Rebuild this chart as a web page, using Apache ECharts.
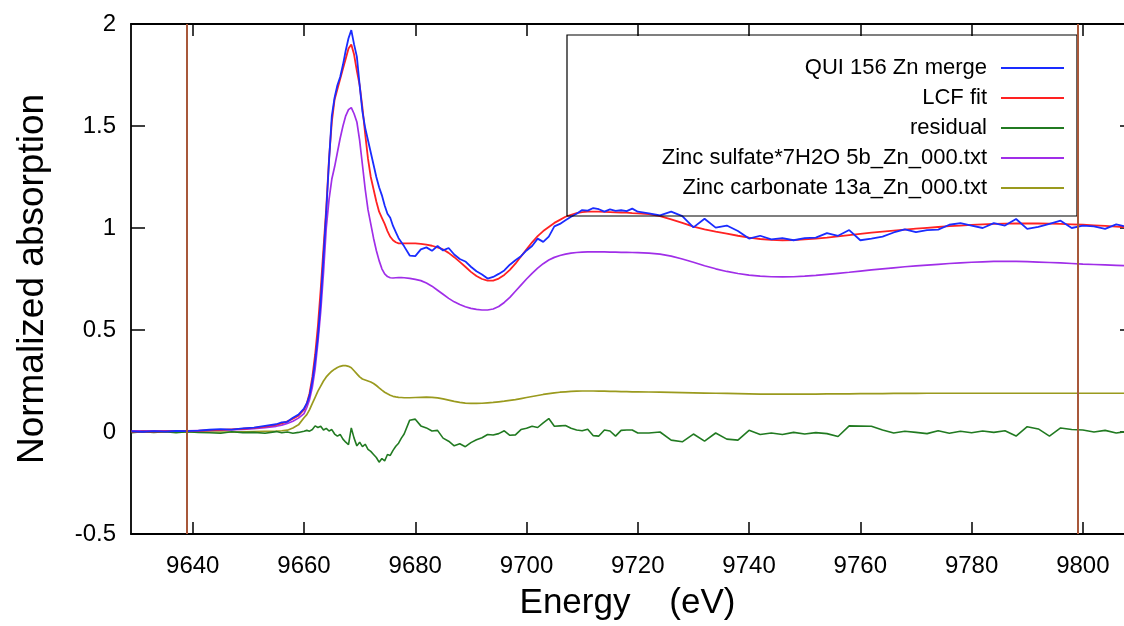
<!DOCTYPE html>
<html>
<head>
<meta charset="utf-8">
<script src="https://cdn.jsdelivr.net/npm/echarts@6/dist/echarts.min.js"></script>
<style>
  html, body { margin: 0; padding: 0; background: #fff; }
  #chart { width: 1124px; height: 626px; }
</style>
</head>
<body>
<div id="chart"></div>
<script>
// Energy grid (eV)
const energy = [
  9629, 9631, 9633, 9635, 9637, 9639, 9641, 9643, 9645, 9647, 9649, 9651, 9653,
  9655, 9656, 9657, 9658, 9659, 9660,
  9660.5, 9661, 9661.5, 9662, 9662.5, 9663, 9663.5, 9664, 9664.5, 9665, 9665.5, 9666,
  9666.5, 9667, 9667.5, 9668, 9668.5, 9669, 9669.5, 9670, 9670.5, 9671, 9671.5, 9672,
  9672.5, 9673, 9673.5, 9674, 9674.5, 9675, 9675.5, 9676, 9676.5, 9677, 9677.5, 9678,
  9679, 9680, 9681, 9682, 9683, 9684, 9685, 9686, 9687, 9688, 9689, 9690, 9691, 9692,
  9693, 9694, 9695, 9696, 9697, 9698, 9699, 9700, 9701, 9702, 9703, 9704, 9705, 9706,
  9707, 9708, 9709, 9710, 9711, 9712, 9713, 9714, 9715, 9716, 9717, 9718, 9719, 9720,
  9722, 9724, 9726, 9728, 9730, 9732, 9734, 9736, 9738, 9740, 9742, 9744, 9746, 9748,
  9750, 9752, 9754, 9756, 9758, 9760, 9762, 9764, 9766, 9768, 9770, 9772, 9774, 9776,
  9778, 9780, 9782, 9784, 9786, 9788, 9790, 9792, 9794, 9796, 9798, 9800, 9802, 9804,
  9806, 9808
];

// QUI 156 Zn merge (measured)
const mergeData = [
  0.003, 0.001, 0.004, 0.002, 0.005, 0.004, 0.007, 0.011, 0.014, 0.012, 0.018, 0.021, 0.030,
  0.038, 0.047, 0.050, 0.070, 0.085, 0.115,
  0.14, 0.18, 0.25, 0.35, 0.47, 0.64, 0.86, 1.08, 1.33, 1.55, 1.64, 1.70,
  1.74, 1.80, 1.87, 1.93, 1.97, 1.90, 1.84, 1.70, 1.57, 1.49, 1.43, 1.37,
  1.31, 1.25, 1.20, 1.16, 1.11, 1.07, 1.05, 1.01, 0.98, 0.95, 0.93, 0.91,
  0.865, 0.862, 0.895, 0.905, 0.888, 0.912, 0.89, 0.902, 0.87, 0.848, 0.836, 0.81, 0.788, 0.772,
  0.752, 0.76, 0.775, 0.792, 0.82, 0.842, 0.862, 0.89, 0.912, 0.948, 0.932, 0.958, 1.008, 1.02,
  1.038, 1.055, 1.07, 1.088, 1.085, 1.098, 1.092, 1.08, 1.091, 1.084, 1.087, 1.083, 1.095, 1.08,
  1.072, 1.062, 1.08, 1.058, 1.003, 1.045, 1.002, 1.012, 0.985, 0.948, 0.962, 0.944, 0.95, 0.94,
  0.95, 0.953, 0.975, 0.962, 0.99, 0.94, 0.948, 0.958, 0.978, 0.993, 0.98, 0.99, 0.992, 1.016,
  1.024, 1.012, 1.0, 1.024, 1.012, 1.044, 0.996, 1.005, 1.02, 1.036, 1.0, 1.012, 1.008, 0.996,
  1.018, 1.005
];

// LCF fit
const fitData = [
  0.001, 0.002, 0.002, 0.003, 0.004, 0.005, 0.006, 0.008, 0.010, 0.013, 0.016, 0.020, 0.026,
  0.035, 0.042, 0.052, 0.065, 0.080, 0.110,
  0.14, 0.19, 0.27, 0.38, 0.52, 0.70, 0.90, 1.10, 1.34, 1.52, 1.63, 1.68,
  1.73, 1.78, 1.83, 1.88, 1.90, 1.85, 1.77, 1.70, 1.59, 1.46, 1.34, 1.25,
  1.19, 1.13, 1.08, 1.05, 1.02, 0.985, 0.957, 0.94, 0.93, 0.925, 0.925, 0.925,
  0.925, 0.925, 0.922, 0.918, 0.913, 0.905, 0.895, 0.878, 0.857, 0.834, 0.81, 0.785, 0.765, 0.75,
  0.742, 0.742, 0.752, 0.77, 0.795, 0.825, 0.86, 0.895, 0.93, 0.96, 0.985, 1.005, 1.025, 1.04,
  1.055, 1.065, 1.073, 1.078, 1.08, 1.08, 1.08, 1.079, 1.078, 1.077, 1.076, 1.075, 1.073, 1.072,
  1.068, 1.058, 1.042, 1.025, 1.007, 0.993, 0.982, 0.972, 0.962, 0.953, 0.946, 0.942, 0.94, 0.941,
  0.944, 0.948, 0.953, 0.959, 0.965, 0.971, 0.977, 0.982, 0.987, 0.992, 0.997, 1.001, 1.005, 1.009,
  1.012, 1.015, 1.018, 1.02, 1.021, 1.022, 1.022, 1.022, 1.021, 1.02, 1.018, 1.016, 1.013, 1.01,
  1.007, 1.004
];

// residual
const residualData = [
  -0.003, 0.002, -0.002, 0.001, -0.003, 0.001, -0.002, -0.004, -0.006, 0.001, -0.003, -0.002, -0.006,
  0.002, -0.004, 0.0, -0.006, -0.002, 0.004,
  0.008, 0.004, 0.012, 0.03, 0.022, 0.028, 0.01, 0.018, 0.005, 0.012, -0.01, -0.02,
  -0.012, -0.035, -0.05, -0.062, 0.02, -0.03, -0.068, -0.05, -0.072, -0.06, -0.085, -0.095,
  -0.11, -0.125, -0.148, -0.13, -0.142, -0.11, -0.115, -0.09, -0.07, -0.055, -0.03, -0.01,
  0.058, 0.063, 0.03, 0.02, 0.005, 0.008, -0.03, -0.045, -0.068, -0.058, -0.072, -0.052, -0.038, -0.028,
  -0.012, -0.015, -0.008, 0.006, -0.016, -0.014, 0.012, 0.018, 0.028, 0.022, 0.045, 0.066, 0.028, 0.03,
  0.032, 0.018, 0.01, 0.006, 0.014, -0.018, -0.02, 0.01, 0.005, -0.02, 0.008, 0.01, 0.01, -0.005,
  -0.005, 0.0, -0.04, -0.048, -0.01, -0.045, -0.005, -0.035, -0.04, 0.008, -0.012, -0.005, -0.012, -0.002,
  -0.01, -0.003, -0.008, -0.022, 0.03, 0.029, 0.028, 0.01, -0.005, 0.004, -0.002, -0.008, 0.006, -0.006,
  0.004, -0.004, 0.005, -0.002, 0.006, -0.02, 0.026, 0.015, -0.02, 0.02, 0.012, 0.01, 0.0, 0.008,
  -0.005, 0.003
];

// Zinc sulfate*7H2O reference (weighted)
const sulfateData = [
  0.006, 0.006, 0.006, 0.006, 0.006, 0.006, 0.007, 0.008, 0.009, 0.011, 0.013, 0.016, 0.021,
  0.028, 0.034, 0.042, 0.053, 0.068, 0.09,
  0.12, 0.16, 0.22, 0.31, 0.44, 0.59, 0.78, 1.00, 1.14, 1.24, 1.30, 1.37,
  1.44, 1.50, 1.55, 1.58, 1.59, 1.56, 1.52, 1.43, 1.31, 1.19, 1.09, 1.02,
  0.95, 0.89, 0.84, 0.80, 0.775, 0.762, 0.756, 0.755, 0.756, 0.757, 0.757, 0.756,
  0.753, 0.748, 0.742, 0.73, 0.715, 0.695, 0.675, 0.655, 0.638, 0.625, 0.614, 0.606, 0.601, 0.598,
  0.598, 0.603, 0.615, 0.635, 0.66, 0.69, 0.72, 0.75, 0.778, 0.803, 0.825, 0.843, 0.856, 0.865,
  0.872, 0.877, 0.88, 0.882, 0.883, 0.883, 0.883, 0.883, 0.882, 0.882, 0.881, 0.881, 0.88, 0.879,
  0.877, 0.872, 0.862, 0.848, 0.832, 0.815, 0.8, 0.787, 0.777, 0.769, 0.764, 0.761, 0.76, 0.761,
  0.764, 0.768, 0.773, 0.778, 0.783, 0.789, 0.795, 0.8, 0.805, 0.81, 0.814, 0.818, 0.822, 0.826,
  0.829, 0.832, 0.834, 0.836, 0.836, 0.836, 0.835, 0.833, 0.831, 0.829, 0.826, 0.823, 0.821, 0.819,
  0.817, 0.815
];

// Zinc carbonate reference (weighted)
const carbonateData = [
  0, 0, 0, 0, 0, 0, 0, 0, 0, 0, 0.001, 0.002, 0.003,
  0.004, 0.006, 0.009, 0.02, 0.035, 0.07,
  0.085, 0.11, 0.14, 0.17, 0.20, 0.225, 0.25, 0.27, 0.285, 0.298, 0.308, 0.316,
  0.322, 0.325, 0.325, 0.322, 0.315, 0.30, 0.285, 0.27, 0.26, 0.255, 0.25, 0.245,
  0.238, 0.228, 0.216, 0.205, 0.195, 0.187, 0.18, 0.175, 0.172, 0.17, 0.169, 0.168,
  0.168, 0.169, 0.17, 0.171, 0.17, 0.167, 0.162, 0.156, 0.15, 0.145, 0.142, 0.14, 0.14, 0.141,
  0.143, 0.145, 0.148, 0.151, 0.155, 0.159, 0.164, 0.169, 0.174, 0.179, 0.184, 0.188, 0.192, 0.195,
  0.197, 0.199, 0.2, 0.201, 0.201, 0.201, 0.2, 0.2, 0.199, 0.199, 0.198, 0.198, 0.197, 0.197,
  0.196, 0.195, 0.194, 0.193, 0.192, 0.191, 0.19, 0.189, 0.188, 0.187, 0.186, 0.186, 0.186, 0.186,
  0.186, 0.186, 0.187, 0.187, 0.187, 0.188, 0.188, 0.188, 0.189, 0.189, 0.189, 0.19, 0.19, 0.19,
  0.19, 0.19, 0.19, 0.19, 0.19, 0.19, 0.19, 0.19, 0.19, 0.19, 0.19, 0.19, 0.19, 0.19,
  0.19, 0.19
];

// Fit range limits (eV)
const fitRange = [9639, 9799];

// Axis ticks and visible energy window
const xTicks = [9640, 9660, 9680, 9700, 9720, 9740, 9760, 9780, 9800];
const xRange = [9628.9, 9807.4];
const yTicks = [-0.5, 0, 0.5, 1, 1.5, 2];

const seriesNames = [
  'QUI 156 Zn merge',
  'LCF fit',
  'residual',
  'Zinc sulfate*7H2O 5b_Zn_000.txt',
  'Zinc carbonate 13a_Zn_000.txt'
];
const seriesValues = [mergeData, fitData, residualData, sulfateData, carbonateData];
const seriesColors = ['#1a2cff', '#ff2222', '#217a21', '#a02ee8', '#9a9a1e'];
const seriesWidths = [1.8, 1.8, 1.6, 1.7, 1.7];

const FONT = 'Liberation Sans, Arial, sans-serif';

const chart = echarts.init(document.getElementById('chart'), null, { renderer: 'canvas' });

const series = seriesNames.map((name, k) => ({
  name: name,
  type: 'line',
  xAxisIndex: 0,
  yAxisIndex: 0,
  symbol: 'none',
  smooth: false,
  lineStyle: { color: seriesColors[k], width: seriesWidths[k] },
  itemStyle: { color: seriesColors[k] },
  z: 2 + (4 - k) * 0.01,
  data: energy.map((e, i) => [e, seriesValues[k][i]])
}));

// vertical markers for the fit window
series[0].markLine = {
  silent: true,
  symbol: ['none', 'none'],
  label: { show: false },
  lineStyle: { color: '#a8583a', width: 2, type: 'solid' },
  z: 10,
  data: fitRange.map(v => ({ xAxis: v }))
};

const tickStyle = { show: true, inside: true, length: 12, lineStyle: { color: '#000', width: 1.5 } };
const axisLineStyle = { show: true, onZero: false, lineStyle: { color: '#000', width: 1.8 } };

const option = {
  animation: false,
  backgroundColor: '#fff',
  grid: { left: 131, right: 0, top: 24, bottom: 92, containLabel: false },
  xAxis: [
    {
      type: 'value',
      min: xRange[0],
      max: xRange[1],
      position: 'bottom',
      axisLine: axisLineStyle,
      axisTick: Object.assign({}, tickStyle, { customValues: xTicks }),
      axisLabel: {
        customValues: xTicks,
        formatter: v => String(v),
        color: '#000', fontFamily: FONT, fontSize: 24, margin: 20
      },
      splitLine: { show: false },
      name: 'Energy    (eV)',
      nameLocation: 'middle',
      nameGap: 52,
      nameTextStyle: { color: '#000', fontFamily: FONT, fontSize: 35 }
    },
    {
      type: 'value',
      min: xRange[0],
      max: xRange[1],
      position: 'top',
      axisLine: axisLineStyle,
      axisTick: Object.assign({}, tickStyle, { customValues: xTicks }),
      axisLabel: { show: false },
      splitLine: { show: false }
    }
  ],
  yAxis: [
    {
      type: 'value',
      min: yTicks[0],
      max: yTicks[yTicks.length - 1],
      interval: 0.5,
      position: 'left',
      axisLine: axisLineStyle,
      axisTick: Object.assign({}, tickStyle, { length: 14 }),
      axisLabel: { color: '#000', fontFamily: FONT, fontSize: 24, margin: 15 },
      splitLine: { show: false },
      name: 'Normalized absorption',
      nameLocation: 'middle',
      nameGap: 80,
      nameTextStyle: { color: '#000', fontFamily: FONT, fontSize: 37 }
    },
    {
      type: 'value',
      min: yTicks[0],
      max: yTicks[yTicks.length - 1],
      interval: 0.5,
      position: 'right',
      axisLine: { show: false },
      axisTick: Object.assign({}, tickStyle, { length: 4 }),
      axisLabel: { show: false },
      splitLine: { show: false }
    }
  ],
  legend: {
    orient: 'vertical',
    align: 'right',
    left: 567,
    top: 35,
    padding: [22, 13, 17, 20],
    itemGap: 8,
    itemWidth: 63,
    itemHeight: 2,
    icon: 'rect',
    backgroundColor: 'transparent',
    borderColor: '#000',
    borderWidth: 1.2,
    borderRadius: 0,
    selectedMode: false,
    data: seriesNames,
    formatter: name => '{n|' + name + '}',
    textStyle: {
      color: '#000',
      fontFamily: FONT,
      fontSize: 22,
      rich: {
        n: {
          width: 400,
          align: 'right',
          padding: [0, 9, 0, 0],
          fontFamily: FONT,
          fontSize: 22,
          lineHeight: 24,
          color: '#000'
        }
      }
    }
  },
  series: series
};

chart.setOption(option);
</script>
</body>
</html>
